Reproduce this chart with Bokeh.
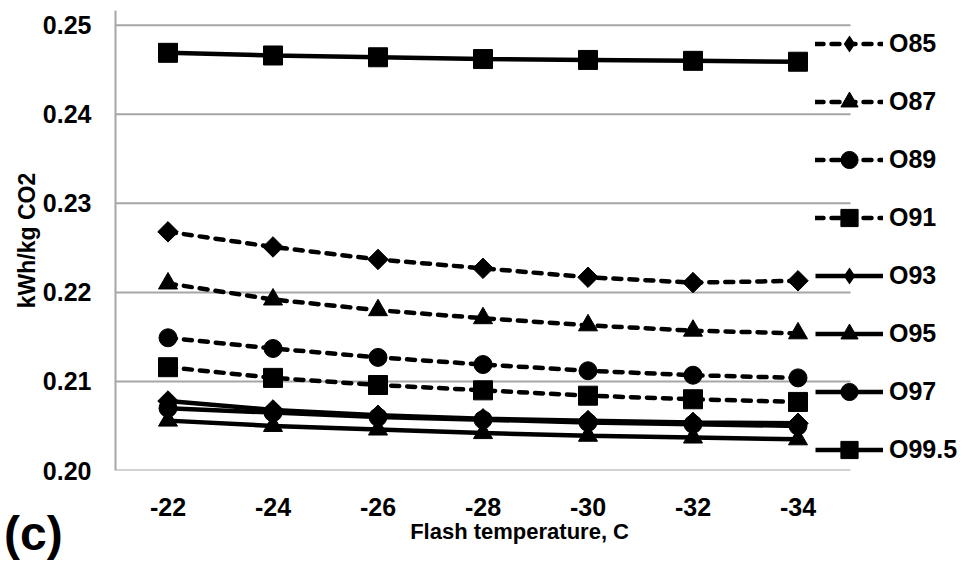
from bokeh.plotting import figure
from bokeh.models import (Range1d, FixedTicker, NumeralTickFormatter,
                          Legend, LegendItem, Div)
from bokeh.layouts import column
from bokeh.embed import file_html
from bokeh.resources import INLINE

temps = ["-22", "-24", "-26", "-28", "-30", "-32", "-34"]

O85 = [0.2268, 0.2251, 0.2237, 0.2227, 0.2217, 0.2211, 0.2213]
O87 = [0.2210, 0.2192, 0.2180, 0.2171, 0.2163, 0.2157, 0.2154]
O89 = [0.2149, 0.2137, 0.2127, 0.2119, 0.2112, 0.2107, 0.2104]
O91 = [0.2116, 0.2104, 0.2096, 0.2090, 0.2084, 0.2080, 0.2077]
O93 = [0.2078, 0.2068, 0.2062, 0.2058, 0.2056, 0.2054, 0.2053]
O95 = [0.2056, 0.2050, 0.2046, 0.2042, 0.2039, 0.2037, 0.2035]
O97 = [0.2070, 0.2065, 0.2060, 0.2057, 0.2054, 0.2052, 0.2050]
O99_5 = [0.2469, 0.2466, 0.2464, 0.2462, 0.2461, 0.2460, 0.2459]

y_ticks = [0.20, 0.21, 0.22, 0.23, 0.24, 0.25]

series = [
    ("O85", O85, "dashed", "diamond"),
    ("O87", O87, "dashed", "triangle"),
    ("O89", O89, "dashed", "circle"),
    ("O91", O91, "dashed", "square"),
    ("O93", O93, "solid", "diamond"),
    ("O95", O95, "solid", "triangle"),
    ("O97", O97, "solid", "circle"),
    ("O99.5", O99_5, "solid", "square"),
]

FONT = "Liberation Sans"
GRID = "#a6a6a6"

xs = list(range(len(temps)))
n = len(temps)
# plot area spans the categories; extra room on the right holds the legend
x_end = (n - 0.5) + 116.0 / 105.0

p = figure(width=966, height=565, output_backend="svg", toolbar_location=None,
           x_range=Range1d(-0.5, x_end),
           y_range=Range1d(0.20, 0.251652),
           min_border_left=115, min_border_right=0, min_border_top=10,
           min_border_bottom=95)
p.outline_line_color = None
p.background_fill_color = "white"
p.border_fill_color = "white"

p.xgrid.grid_line_color = None
p.ygrid.grid_line_color = None
# horizontal gridlines across the category area only
p.segment(x0=[-0.5] * len(y_ticks), x1=[n - 0.5] * len(y_ticks),
          y0=y_ticks, y1=y_ticks, line_color=GRID, line_width=2)

p.yaxis.ticker = FixedTicker(ticks=y_ticks)
p.yaxis.formatter = NumeralTickFormatter(format="0.00")
p.xaxis.ticker = FixedTicker(ticks=xs)
p.xaxis.major_label_overrides = {i: t for i, t in zip(xs, temps)}

for ax in (p.xaxis, p.yaxis):
    ax.axis_line_color = GRID
    ax.axis_line_width = 2
    ax.major_tick_line_color = None
    ax.minor_tick_line_color = None
    ax.major_label_text_font = FONT
    ax.major_label_text_font_style = "bold"
    ax.major_label_text_font_size = "25px"
    ax.major_label_text_color = "black"
    ax.axis_label_text_font = FONT
    ax.axis_label_text_font_style = "bold"
    ax.axis_label_text_color = "black"

p.xaxis.axis_line_color = None
# trailing no-break spaces shift the centred title slightly left, as in the original
p.xaxis.axis_label = "Flash temperature, C" + "\u00a0" * 7
p.xaxis.axis_label_text_font_size = "22px"
p.yaxis.axis_label = "kWh/kg CO2"
p.yaxis.axis_label_text_font_size = "23px"
p.xaxis.major_label_standoff = 21
p.yaxis.major_label_standoff = 18
p.xaxis.axis_label_standoff = 0
p.yaxis.axis_label_standoff = 0

items = []
for name, vals, dash, marker in series:
    if dash == "dashed":
        ln = p.line(xs, vals, line_color="black", line_width=4.5,
                    line_dash="8 8", line_cap="round")
    else:
        ln = p.line(xs, vals, line_color="black", line_width=4.5)
    if marker == "diamond":
        p.scatter(xs, vals, marker="square", size=14.5, angle=0.785398,
                  fill_color="black", line_color="black")
        # zero-size copy: invisible in the plot, gives the legend its diamond key
        key = p.scatter(xs, vals, marker="diamond", size=0,
                        fill_color="black", line_color=None)
    else:
        size = {"triangle": 19, "circle": 18, "square": 19}[marker]
        key = p.scatter(xs, vals, marker=marker, size=size,
                        fill_color="black", line_color="black")
    items.append(LegendItem(label=name, renderers=[ln, key]))

legend = Legend(items=items, location=(700, -1), orientation="vertical",
                glyph_width=68, glyph_height=43, label_height=43,
                label_standoff=6, spacing=15, padding=0, margin=0,
                border_line_color=None, background_fill_alpha=0,
                label_text_font=FONT, label_text_font_style="bold",
                label_text_font_size="25px", label_text_color="black")
p.add_layout(legend, "center")

tag = Div(text='<span style="font-family: \'Liberation Sans\'; font-weight: bold; '
               'font-size: 48px; line-height: 48px; color: black;">(c)</span>',
          width=70, height=48, margin=(-55, 0, 0, 4),
          styles={"font-family": "Liberation Sans", "font-weight": "bold",
                  "font-size": "48px", "line-height": "48px", "color": "black"})

layout = column(p, tag)
open("out.html", "w").write(file_html(layout, INLINE))
